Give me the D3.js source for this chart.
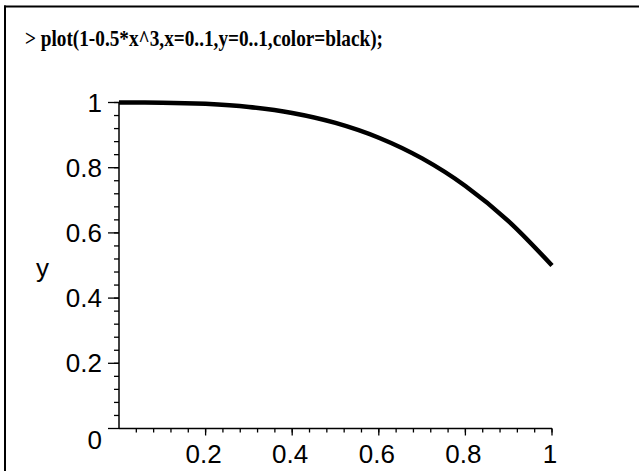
<!DOCTYPE html>
<html><head><meta charset="utf-8">
<script src="https://cdn.jsdelivr.net/npm/d3@7/dist/d3.min.js"></script>
<style>html,body{margin:0;padding:0;background:#fff;overflow:hidden}</style>
</head><body>
<svg id="c" width="639" height="471"></svg>
<script>
const titleText = "> plot(1-0.5*x^3,x=0..1,y=0..1,color=black);";
const xValues = [0, 0.1, 0.2, 0.3, 0.4, 0.5, 0.6, 0.7, 0.8, 0.9, 1.0];
const yValues = [1.0, 0.9995, 0.996, 0.9865, 0.968, 0.9375, 0.892, 0.8285, 0.744, 0.6355, 0.5];
const xTickValues = [0.2, 0.4, 0.6, 0.8, 1];
const xTickLabels = ["0.2", "0.4", "0.6", "0.8", "1"];
const yTickValues = [0, 0.2, 0.4, 0.6, 0.8, 1];
const yTickLabels = ["0", "0.2", "0.4", "0.6", "0.8", "1"];
const yAxisLabel = "y";

const svg = d3.select("#c");
// frame
svg.append("line").attr("x1",4).attr("x2",639).attr("y1",6.5).attr("y2",6.5).attr("stroke","#000").attr("stroke-width",2);
svg.append("line").attr("x1",5).attr("x2",5).attr("y1",5.5).attr("y2",471).attr("stroke","#000").attr("stroke-width",2);

// title
svg.append("text").attr("x",25).attr("y",45.5)
  .attr("font-family","'Liberation Serif','Times New Roman',serif").attr("font-weight","bold")
  .attr("font-size",22.5).attr("fill","#000")
  .attr("textLength",358).attr("lengthAdjust","spacingAndGlyphs")
  .text(titleText);

const x = d3.scaleLinear().domain([0,1]).range([119,552]);
const y = d3.scaleLinear().domain([0,1]).range([428.5,102.5]);

const font = "'Liberation Sans',Arial,sans-serif";
const fs = 26;

// x axis
const gx = svg.append("g").attr("transform",`translate(0,${y(0)})`);
gx.append("line").attr("x1",x(0)).attr("x2",x(1)).attr("stroke","#000").attr("stroke-width",1.5);
const xMinor = d3.range(1,26).map(i=>i*0.04);
gx.selectAll(".xm").data(xMinor).join("line")
  .attr("x1",d=>x(d)).attr("x2",d=>x(d)).attr("y1",0).attr("y2",4).attr("stroke","#000").attr("stroke-width",1.3);
gx.selectAll(".xM").data(xTickValues).join("line")
  .attr("x1",d=>x(d)).attr("x2",d=>x(d)).attr("y1",0).attr("y2",7).attr("stroke","#000").attr("stroke-width",1.3);
gx.selectAll(".xl").data(xTickValues).join("text")
  .attr("x",d=>x(d)-2).attr("y",34).attr("text-anchor","middle")
  .attr("font-family",font).attr("font-size",fs).attr("fill","#000")
  .text((d,i)=>xTickLabels[i]);

// y axis
const gy = svg.append("g").attr("transform",`translate(${x(0)},0)`);
gy.append("line").attr("y1",y(0)).attr("y2",y(1)).attr("stroke","#000").attr("stroke-width",1.5);
const yMinor = d3.range(1,26).map(i=>i*0.04);
gy.selectAll(".ym").data(yMinor).join("line")
  .attr("y1",d=>y(d)).attr("y2",d=>y(d)).attr("x1",-5).attr("x2",0).attr("stroke","#000").attr("stroke-width",1.3);
gy.selectAll(".yM").data(yTickValues).join("line")
  .attr("y1",d=>y(d)).attr("y2",d=>y(d)).attr("x1",-11).attr("x2",0).attr("stroke","#000").attr("stroke-width",1.3);
gy.selectAll(".yl").data(yTickValues).join("text")
  .attr("x",-17).attr("y",d=>y(d) + (d===0 ? 20 : 9)).attr("text-anchor","end")
  .attr("font-family",font).attr("font-size",fs).attr("fill","#000")
  .text((d,i)=>yTickLabels[i]);

svg.append("text").attr("x",36).attr("y",277).attr("font-family",font).attr("font-size",fs).attr("fill","#000").text(yAxisLabel);

// curve
const pts = xValues.map((v,i)=>[v,yValues[i]]);
svg.append("path").datum(pts)
  .attr("d", d3.line().x(d=>x(d[0])).y(d=>y(d[1])).curve(d3.curveMonotoneX))
  .attr("fill","none").attr("stroke","#000").attr("stroke-width",4.5);
</script>
</body></html>
